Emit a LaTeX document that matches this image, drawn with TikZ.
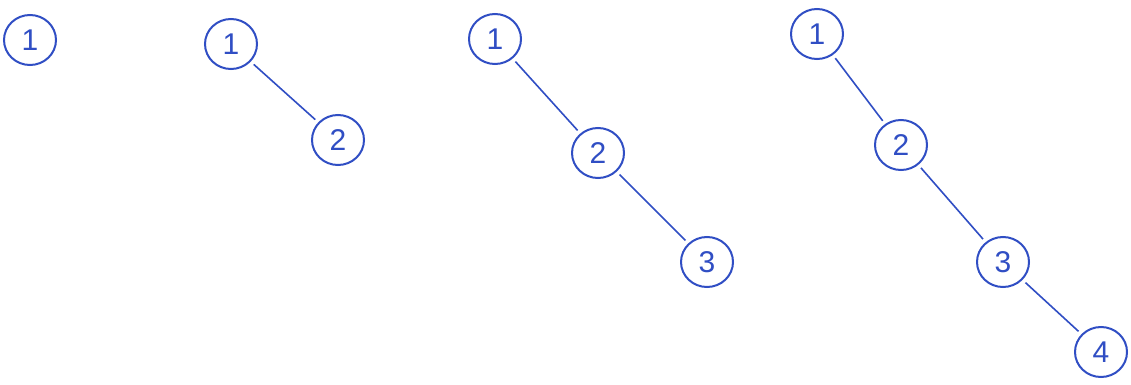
\documentclass[tikz,border=0pt]{standalone}
\usepackage{fontspec}
\setmainfont{Liberation Sans}
\usetikzlibrary{shapes.geometric}
\definecolor{ink}{RGB}{48,78,196}
\tikzset{
  tnode/.style={draw=ink, ellipse, line width=2pt, minimum width=52pt, minimum height=50pt, inner sep=0pt, text=ink, font=\fontsize{30}{32}\selectfont},
  tedge/.style={draw=ink, line width=1.6pt, shorten <=4pt, shorten >=4pt}
}
\begin{document}
\begin{tikzpicture}[x=1pt,y=-1pt]
\useasboundingbox[fill=white] (0,0) rectangle (1131,385);
% tree 1
\node[tnode] (a1) at (30,40) {1};
% tree 2
\node[tnode] (b1) at (231,44) {1};
\node[tnode] (b2) at (338,140) {2};
\draw[tedge] (b1) -- (b2);
% tree 3
\node[tnode] (c1) at (495,39) {1};
\node[tnode] (c2) at (598,153) {2};
\node[tnode] (c3) at (707,262) {3};
\draw[tedge] (c1) -- (c2);
\draw[tedge] (c2) -- (c3);
% tree 4
\node[tnode] (d1) at (817,34) {1};
\node[tnode] (d2) at (901,145) {2};
\node[tnode] (d3) at (1003,262) {3};
\node[tnode] (d4) at (1101,352) {4};
\draw[tedge] (d1) -- (d2);
\draw[tedge] (d2) -- (d3);
\draw[tedge] (d3) -- (d4);
\end{tikzpicture}
\end{document}
